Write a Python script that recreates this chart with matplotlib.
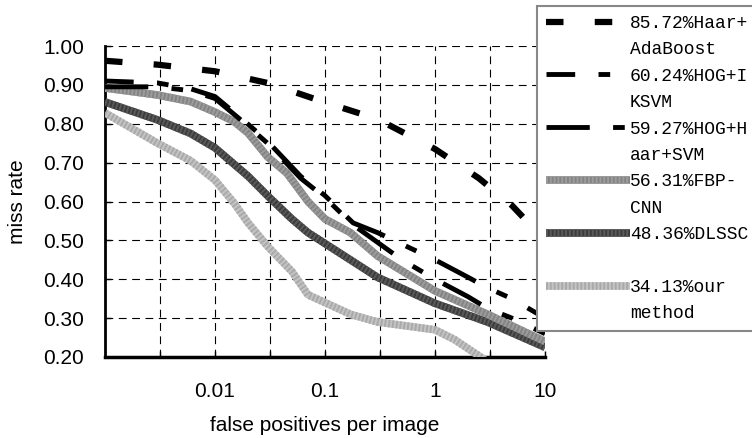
import matplotlib
matplotlib.use("Agg")
import matplotlib.pyplot as plt
from matplotlib.lines import Line2D
from matplotlib.ticker import NullLocator

# false positives per image / miss rate
haar_x = [0.001, 0.003, 0.01, 0.03, 0.1, 0.3, 1, 2.5, 5, 10]
haar_y = [0.962, 0.952, 0.935, 0.905, 0.855, 0.812, 0.735, 0.66, 0.59, 0.50]

iksvm_x = [0.001, 0.003, 0.006, 0.01, 0.018, 0.03, 0.06, 0.1, 0.18, 0.3, 1, 2, 3, 5, 10]
iksvm_y = [0.91, 0.905, 0.89, 0.87, 0.81, 0.755, 0.665, 0.615, 0.545, 0.52, 0.45, 0.405, 0.378, 0.35, 0.30]

hogsvm_x = [0.001, 0.003, 0.006, 0.01, 0.018, 0.03, 0.06, 0.1, 0.18, 0.3, 0.5, 1, 2, 3, 5, 10]
hogsvm_y = [0.895, 0.895, 0.885, 0.865, 0.805, 0.75, 0.66, 0.61, 0.54, 0.495, 0.45, 0.40, 0.355, 0.325, 0.30, 0.26]

fbp_x = [0.001, 0.003, 0.006, 0.01, 0.015, 0.02, 0.03, 0.045, 0.07, 0.1, 0.17, 0.3, 1, 3, 10]
fbp_y = [0.892, 0.874, 0.857, 0.83, 0.805, 0.776, 0.715, 0.673, 0.60, 0.555, 0.52, 0.46, 0.37, 0.31, 0.24]

dlssc_x = [0.001, 0.003, 0.006, 0.01, 0.02, 0.03, 0.05, 0.07, 0.17, 0.3, 1, 3, 10]
dlssc_y = [0.856, 0.81, 0.775, 0.738, 0.665, 0.615, 0.555, 0.52, 0.45, 0.405, 0.338, 0.29, 0.225]

ours_x = [0.001, 0.003, 0.006, 0.01, 0.015, 0.02, 0.03, 0.05, 0.07, 0.1, 0.17, 0.3, 1, 1.5, 2.6, 4]
ours_y = [0.828, 0.75, 0.705, 0.655, 0.595, 0.545, 0.485, 0.42, 0.36, 0.34, 0.31, 0.29, 0.27, 0.245, 0.20, 0.16]

labels = [
    ("85.72%Haar+", "AdaBoost"),
    ("60.24%HOG+I", "KSVM"),
    ("59.27%HOG+H", "aar+SVM"),
    ("56.31%FBP-", "CNN"),
    ("48.36%DLSSC", " "),
    ("34.13%our", "method"),
]

xtick_pos = [10**-2.5, 0.01, 10**-1.5, 0.1, 10**-0.5, 1, 10**0.5, 10]
xtick_lab = ["", "0.01", "", "0.1", "", "1", "", "10"]
ytick_pos = [0.2, 0.3, 0.4, 0.5, 0.6, 0.7, 0.8, 0.9, 1.0]

plt.rcParams['font.family'] = ['Liberation Sans', 'DejaVu Sans']

fig = plt.figure(figsize=(7.52, 4.38), dpi=100)
ax = fig.add_axes([105/752, 1 - 357/438, 440/752, 311/438])

haar_dash = (0, (2.8, 5.0))
hog_dash = (0, (8.9, 4.8, 2.4, 4.8))


def striped(x, y, base, stripe, z):
    l1, = ax.plot(x, y, color=base, lw=5.5, solid_capstyle='butt', zorder=z)
    l2, = ax.plot(x, y, color=stripe, lw=5.5, linestyle=(0, (0.25, 0.25)),
                  dash_capstyle='butt', zorder=z)
    return (l1, l2)


h_ours = striped(ours_x, ours_y, '#c4c4c4', '#a9a9a9', 3)
h_dlssc = striped(dlssc_x, dlssc_y, '#3c3c3c', '#5a5a5a', 3.1)
h_fbp = striped(fbp_x, fbp_y, '#848484', '#9c9c9c', 3.2)
h_hogsvm, = ax.plot(hogsvm_x, hogsvm_y, color='black', lw=3.5, linestyle=hog_dash,
                    dash_capstyle='butt', zorder=4)
h_iksvm, = ax.plot(iksvm_x, iksvm_y, color='black', lw=3.5,
                   linestyle=(3, (8.9, 4.8, 2.4, 4.8)), dash_capstyle='butt', zorder=4)
h_haar, = ax.plot(haar_x, haar_y, color='black', lw=4.5, linestyle=haar_dash,
                  dash_capstyle='butt', zorder=5)

ax.set_xscale('log')
ax.set_xlim(0.001, 10)
ax.set_ylim(0.2, 1.0)
ax.set_xticks(xtick_pos)
ax.set_xticklabels(xtick_lab)
ax.xaxis.set_minor_locator(NullLocator())
ax.set_yticks(ytick_pos)
ax.set_yticklabels([f"{v:.2f}" for v in ytick_pos])
ax.tick_params(direction='in', length=4, width=1, labelsize=15)
ax.tick_params(axis='x', pad=18)
ax.tick_params(axis='y', pad=15)
ax.grid(True, color='black', linestyle=(0, (7, 5)), linewidth=0.8)
ax.set_axisbelow(True)
for s in ['top', 'right']:
    ax.spines[s].set_visible(False)
ax.spines['left'].set_linewidth(2)
ax.spines['bottom'].set_linewidth(2.5)
ax.set_xlabel("false positives per image", fontsize=15, labelpad=11)
ax.set_ylabel("miss rate", fontsize=15, labelpad=12)

blank = Line2D([], [], color='none')
handles = []
texts = []
for h, (a, b) in zip([h_haar, h_iksvm, h_hogsvm, h_fbp, h_dlssc, h_ours], labels):
    handles += [h, blank]
    texts += [a, b]

leg = fig.legend(handles, texts, loc='upper left',
                 bbox_to_anchor=(537/752, 1 - 6/438), bbox_transform=fig.transFigure,
                 borderaxespad=0, borderpad=0.5, handlelength=4.65, handletextpad=0.0,
                 labelspacing=0.52, fancybox=False, framealpha=1,
                 prop={'family': 'Liberation Mono', 'size': 13})
leg.get_frame().set_edgecolor('#888888')
leg.get_frame().set_linewidth(1.5)

fig.savefig("out.png", dpi=100)
